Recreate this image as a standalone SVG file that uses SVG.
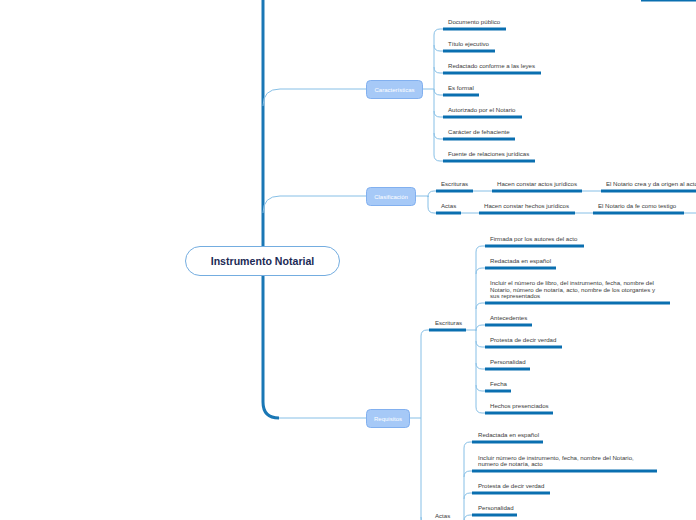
<svg xmlns="http://www.w3.org/2000/svg" width="696" height="520" viewBox="0 0 696 520">
<style>
.t{font-family:"Liberation Sans",Arial,sans-serif;font-size:6.1px;fill:#3a3a3a}
.nt{font-family:"Liberation Sans",Arial,sans-serif;font-size:6px;fill:#ffffff}
.c{fill:none;stroke:#86bfe6;stroke-width:1}
.trunk{fill:none;stroke:#1a77b5;stroke-width:3}
.u{stroke:#0a6fb0;stroke-width:3;stroke-linecap:butt}
.n{fill:#a6c9f7;stroke:#82b0ef;stroke-width:1}
</style>
<rect width="696" height="520" fill="#ffffff"/>
<g id="connectors">
<path class="trunk" d="M263,0 V246"/>
<path class="trunk" d="M263,275 V402 Q263,418 279,418"/>
<path class="c" d="M263,106 Q263,89 280,89 H366"/>
<path class="c" d="M263,213 Q263,196 280,196 H366"/>
<path class="c" d="M279,418 H366"/>
<path class="c" d="M423,89 H434 V35 Q434,29 440,29 H443"/>
<path class="c" d="M434,45 Q434,51 440,51 H443"/>
<path class="c" d="M434,67 Q434,73 440,73 H443"/>
<path class="c" d="M434,89 Q434,95 440,95 H443"/>
<path class="c" d="M434,89 V155 Q434,161 440,161 H443"/>
<path class="c" d="M434,111 Q434,117 440,117 H443"/>
<path class="c" d="M434,133 Q434,139 440,139 H443"/>
<path class="c" d="M416,196 H428 V197 Q428,191 434,191 H436"/>
<path class="c" d="M428,196 V207 Q428,213 434,213 H436"/>
<path class="c" d="M473,191 H492"/>
<path class="c" d="M582,191 H601"/>
<path class="c" d="M461,213 H479"/>
<path class="c" d="M575,213 H593"/>
<path class="c" d="M684,213 H696"/>
<path class="c" d="M409,418 H421"/>
<path class="c" d="M421,530 V336 Q421,330 427,330 H429"/>
<path class="c" d="M421,517 Q421,523 427,523 H429"/>
<path class="c" d="M466,330 H476"/>
<path class="c" d="M476,330 V252 Q476,246 482,246 H485"/>
<path class="c" d="M476,274 Q476,268 482,268 H485"/>
<path class="c" d="M476,309 Q476,303 482,303 H485"/>
<path class="c" d="M476,331 Q476,325 482,325 H485"/>
<path class="c" d="M476,330 V407 Q476,413 482,413 H485"/>
<path class="c" d="M476,341 Q476,347 482,347 H485"/>
<path class="c" d="M476,363 Q476,369 482,369 H485"/>
<path class="c" d="M476,385 Q476,391 482,391 H485"/>
<path class="c" d="M455,523 H464"/>
<path class="c" d="M464,530 V448 Q464,442 470,442 H472"/>
<path class="c" d="M464,477 Q464,471 470,471 H472"/>
<path class="c" d="M464,499 Q464,493 470,493 H472"/>
<path class="c" d="M464,521 Q464,515 470,515 H472"/>
</g>
<g id="top-edge"><line class="u" x1="641" y1="0" x2="696" y2="0"/></g>
<g id="root">
<rect x="185.5" y="246.5" width="154" height="29" rx="14.5" fill="#ffffff" stroke="#74ade0" stroke-width="1"/>
<text x="262.5" y="265" text-anchor="middle" font-family="Liberation Sans,Arial,sans-serif" font-size="10.6" font-weight="bold" fill="#1c2a55">Instrumento Notarial</text>
</g>
<g id="caracteristicas">
<rect class="n" x="366.5" y="80.5" width="56" height="18" rx="4"/>
<text class="nt" x="394.5" y="91.5" text-anchor="middle">Características</text>
</g>
<g id="clasificacion">
<rect class="n" x="366.5" y="187.5" width="49" height="18" rx="4"/>
<text class="nt" x="391" y="198.5" text-anchor="middle">Clasificación</text>
</g>
<g id="requisitos">
<rect class="n" x="366.5" y="409.5" width="43" height="18" rx="4"/>
<text class="nt" x="388" y="420.5" text-anchor="middle">Requisitos</text>
</g>
<g id="car-1"><text class="t" x="448" y="24">Documento público</text><line class="u" x1="443" y1="29" x2="506" y2="29"/></g>
<g id="car-2"><text class="t" x="448" y="46">Título ejecutivo</text><line class="u" x1="443" y1="51" x2="495" y2="51"/></g>
<g id="car-3"><text class="t" x="448" y="68">Redactado conforme a las leyes</text><line class="u" x1="443" y1="73" x2="541" y2="73"/></g>
<g id="car-4"><text class="t" x="448" y="90">Es formal</text><line class="u" x1="443" y1="95" x2="479" y2="95"/></g>
<g id="car-5"><text class="t" x="448" y="112">Autorizado por el Notario</text><line class="u" x1="443" y1="117" x2="522" y2="117"/></g>
<g id="car-6"><text class="t" x="448" y="134">Carácter de fehaciente</text><line class="u" x1="443" y1="139" x2="515" y2="139"/></g>
<g id="car-7"><text class="t" x="448" y="156">Fuente de relaciones jurídicas</text><line class="u" x1="443" y1="161" x2="535" y2="161"/></g>
<g id="cla-escrituras"><text class="t" x="441" y="186">Escrituras</text><line class="u" x1="436" y1="191" x2="473" y2="191"/></g>
<g id="cla-esc-1"><text class="t" x="497" y="186">Hacen constar actos jurídicos</text><line class="u" x1="492" y1="191" x2="582" y2="191"/></g>
<g id="cla-esc-2"><text class="t" x="606" y="186">El Notario crea y da origen al acto</text><line class="u" x1="601" y1="191" x2="700" y2="191"/></g>
<g id="cla-actas"><text class="t" x="441" y="208">Actas</text><line class="u" x1="436" y1="213" x2="461" y2="213"/></g>
<g id="cla-act-1"><text class="t" x="484" y="208">Hacen constar hechos jurídicos</text><line class="u" x1="479" y1="213" x2="575" y2="213"/></g>
<g id="cla-act-2"><text class="t" x="598" y="208">El Notario da fe como testigo</text><line class="u" x1="593" y1="213" x2="684" y2="213"/></g>
<g id="req-escrituras"><text class="t" x="435" y="325">Escrituras</text><line class="u" x1="429" y1="330" x2="466" y2="330"/></g>
<g id="req-esc-1"><text class="t" x="490" y="241">Firmada por los autores del acto</text><line class="u" x1="485" y1="246" x2="584" y2="246"/></g>
<g id="req-esc-2"><text class="t" x="490" y="263">Redactada en español</text><line class="u" x1="485" y1="268" x2="556" y2="268"/></g>
<g id="req-esc-3"><text class="t" x="490" y="285">Incluir el número de libro, del instrumento, fecha, nombre del</text><text class="t" x="490" y="292">Notario, número de notaría, acto, nombre de los otorgantes y</text><text class="t" x="490" y="298">sus representados</text><line class="u" x1="485" y1="303" x2="670" y2="303"/></g>
<g id="req-esc-4"><text class="t" x="490" y="320">Antecedentes</text><line class="u" x1="485" y1="325" x2="532" y2="325"/></g>
<g id="req-esc-5"><text class="t" x="490" y="342">Protesta de decir verdad</text><line class="u" x1="485" y1="347" x2="562" y2="347"/></g>
<g id="req-esc-6"><text class="t" x="490" y="364">Personalidad</text><line class="u" x1="485" y1="369" x2="530" y2="369"/></g>
<g id="req-esc-7"><text class="t" x="490" y="386">Fecha</text><line class="u" x1="485" y1="391" x2="511" y2="391"/></g>
<g id="req-esc-8"><text class="t" x="490" y="408">Hechos presenciados</text><line class="u" x1="485" y1="413" x2="553" y2="413"/></g>
<g id="req-actas"><text class="t" x="435" y="518">Actas</text><line class="u" x1="429" y1="523" x2="455" y2="523"/></g>
<g id="req-act-1"><text class="t" x="478" y="437">Redactada en español</text><line class="u" x1="472" y1="442" x2="543" y2="442"/></g>
<g id="req-act-2"><text class="t" x="478" y="460">Incluir número de instrumento, fecha, nombre del Notario,</text><text class="t" x="478" y="466">numero de notaría, acto</text><line class="u" x1="472" y1="471" x2="657" y2="471"/></g>
<g id="req-act-3"><text class="t" x="478" y="488">Protesta de decir verdad</text><line class="u" x1="472" y1="493" x2="550" y2="493"/></g>
<g id="req-act-4"><text class="t" x="478" y="510">Personalidad</text><line class="u" x1="472" y1="515" x2="517" y2="515"/></g>
</svg>
